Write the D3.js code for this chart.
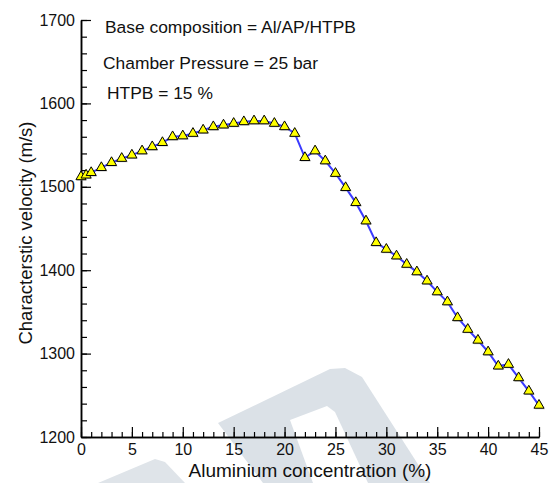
<!DOCTYPE html>
<html>
<head>
<meta charset="utf-8">
<script src="https://cdn.jsdelivr.net/npm/d3@7"></script>
<style>
  html, body { margin: 0; padding: 0; background: #fff; }
  svg { display: block; font-family: "Liberation Sans", Arial, Helvetica, sans-serif; }
</style>
</head>
<body>
<svg id="chart" width="556" height="483"></svg>
<script>
// ---- data ----
const aluminium = [0, 0.5, 1, 2, 3, 4, 5, 6, 7, 8, 9, 10, 11, 12, 13, 14, 15, 16, 17, 18, 19, 20,
  21, 22, 23, 24, 25, 26, 27, 28, 29, 30, 31, 32, 33, 34, 35, 36, 37, 38, 39, 40, 41, 42, 43, 44, 45];
const cstar = [1512, 1514, 1517, 1523, 1529, 1534, 1538, 1543, 1548, 1553, 1560, 1561, 1564, 1568, 1572,
  1574, 1576, 1578, 1579, 1579, 1576, 1572, 1564, 1535, 1543, 1531, 1516, 1499, 1481, 1459, 1433,
  1425, 1417, 1407, 1398, 1387, 1374, 1362, 1343, 1329, 1316, 1302, 1285, 1287, 1271, 1255, 1238];
const xTicks = [0, 5, 10, 15, 20, 25, 30, 35, 40, 45];
const yTicks = [1200, 1300, 1400, 1500, 1600, 1700];
const annotations = ["Base composition = Al/AP/HTPB", "Chamber Pressure = 25 bar", "HTPB = 15 %"];
const xTitle = "Aluminium concentration (%)";
const yTitle = "Characterstic velocity (m/s)";

const svg = d3.select("#chart");

// ---- background watermark (decoration) ----
const wm = svg.append("g");
wm.append("polygon").attr("points", "263,483 218,423 330,369 345,368 362,377 430,483").attr("fill", "#dbe1e7");
wm.append("polygon").attr("points", "313,483 290,420 327,406 335,412 368,483").attr("fill", "#ffffff");
wm.append("polygon").attr("points", "98,483 155,459 165,462 185,483").attr("fill", "#dfe4e9");

// ---- scales ----
const x = d3.scaleLinear().domain([0, 45]).range([81, 539]);
const y = d3.scaleLinear().domain([1200, 1700]).range([437, 20]);
const fmt = d3.format("d");

// ---- axes ----
const xMinor = d3.axisBottom(x).tickValues(d3.range(0, 46, 1)).tickSize(-5).tickSizeOuter(0).tickFormat("");
const xMajor = d3.axisBottom(x).tickValues(xTicks).tickSize(-10).tickSizeOuter(0).tickPadding(7).tickFormat(fmt);
const yMinor = d3.axisLeft(y).tickValues(d3.range(1200, 1701, 20)).tickSize(-6).tickSizeOuter(0).tickFormat("");
const yMajor = d3.axisLeft(y).tickValues(yTicks).tickSize(-10).tickSizeOuter(0).tickPadding(6).tickFormat(fmt);

function style(g, fs) {
  g.selectAll("path.domain").attr("stroke", "#000").attr("stroke-width", 1.5);
  g.selectAll(".tick line").attr("stroke", "#000").attr("stroke-width", 1.2);
  g.selectAll(".tick text").attr("fill", "#111").style("font-size", fs + "px")
    .style("font-family", "'Liberation Sans', Arial, sans-serif");
}
svg.append("g").attr("transform", "translate(0,437)").call(xMinor).call(g => style(g, 15));
svg.append("g").attr("transform", "translate(0,437)").call(xMajor).call(g => style(g, 16));
svg.append("g").attr("transform", "translate(81,0)").call(yMinor).call(g => style(g, 15));
svg.append("g").attr("transform", "translate(81,0)").call(yMajor).call(g => style(g, 16));

// ---- line ----
const pts = aluminium.map((a, i) => [a, cstar[i]]);
svg.append("path")
  .datum(pts)
  .attr("fill", "none")
  .attr("stroke", "#3a3aff")
  .attr("stroke-width", 2)
  .attr("d", d3.line().x(d => x(d[0])).y(d => y(d[1])));

// ---- markers ----
const tri = d3.symbol().type(d3.symbolTriangle).size(44);
svg.append("g").selectAll("path.shadow").data(pts).join("path")
  .attr("transform", d => `translate(${x(d[0]) + 1},${y(d[1]) + 1})`)
  .attr("d", tri)
  .attr("fill", "#999").attr("opacity", 0.5);
svg.append("g").selectAll("path.mk").data(pts).join("path")
  .attr("transform", d => `translate(${x(d[0])},${y(d[1])})`)
  .attr("d", tri)
  .attr("fill", "#ffff00")
  .attr("stroke", "#000")
  .attr("stroke-width", 1);

// ---- annotations ----
const annX = [105, 103, 107];
const annY = [33, 69, 99];
svg.append("g").selectAll("text").data(annotations).join("text")
  .attr("x", (d, i) => annX[i]).attr("y", (d, i) => annY[i])
  .style("font-size", "17.4px").attr("fill", "#111")
  .text(d => d);

// ---- titles ----
svg.append("text").attr("x", 310).attr("y", 477).attr("text-anchor", "middle")
  .style("font-size", "19px").attr("fill", "#111").text(xTitle);
svg.append("text").attr("transform", "translate(32,233) rotate(-90)").attr("text-anchor", "middle")
  .style("font-size", "18.5px").attr("fill", "#111").text(yTitle);
</script>
</body>
</html>
